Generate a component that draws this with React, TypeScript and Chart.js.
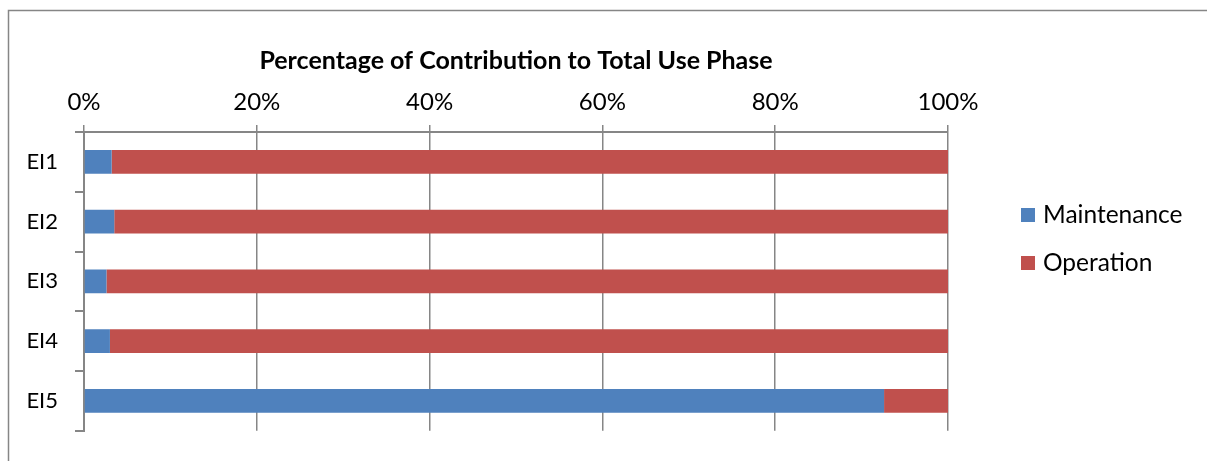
import React, { useEffect, useRef } from "react";
import { Chart, registerables } from "chart.js";

Chart.register(...registerables);

const categories = ["EI1", "EI2", "EI3", "EI4", "EI5"];
const maintenance = [3.2, 3.5, 2.6, 3.0, 92.6];
const operation = [96.8, 96.5, 97.4, 97.0, 7.4];
const seriesNames = ["Maintenance", "Operation"];
const seriesColors = ["#4F81BD", "#C0504D"];
const chartTitle = "Percentage of Contribution to Total Use Phase";

const FONT = "Lato, 'Open Sans', sans-serif";
const AXIS_GRAY = "#868686";

export default function App() {
  const ref = useRef<HTMLCanvasElement | null>(null);

  useEffect(() => {
    document.body.style.margin = "0";
    const canvas = ref.current;
    if (!canvas) return;

    const decor = {
      id: "decor",
      beforeDraw(chart: any) {
        const ctx = chart.ctx;
        ctx.save();
        ctx.strokeStyle = AXIS_GRAY;
        ctx.lineWidth = 1.5;
        ctx.beginPath();
        ctx.moveTo(8.5, chart.height);
        ctx.lineTo(8.5, 10.5);
        ctx.lineTo(chart.width, 10.5);
        ctx.stroke();
        ctx.restore();
      },
      afterDraw(chart: any) {
        const ctx = chart.ctx;
        const area = chart.chartArea;
        ctx.save();
        // title
        ctx.fillStyle = "#000";
        ctx.font = `bold 25px ${FONT}`;
        ctx.textAlign = "center";
        ctx.textBaseline = "middle";
        ctx.fillText(chartTitle, (area.left + area.right) / 2, 61);
        // legend
        ctx.font = `24.5px ${FONT}`;
        ctx.textAlign = "left";
        const ys = [215, 263];
        seriesNames.forEach((name, i) => {
          ctx.fillStyle = seriesColors[i];
          ctx.fillRect(1021, ys[i] - 7, 14, 14);
          ctx.fillStyle = "#000";
          ctx.fillText(name, 1043, ys[i]);
        });
        ctx.restore();
      },
    };

    const chart = new Chart(canvas, {
      type: "bar",
      data: {
        labels: categories,
        datasets: [
          {
            label: seriesNames[0],
            data: maintenance,
            backgroundColor: seriesColors[0],
            barPercentage: 0.4,
            categoryPercentage: 1,
          },
          {
            label: seriesNames[1],
            data: operation,
            backgroundColor: seriesColors[1],
            barPercentage: 0.4,
            categoryPercentage: 1,
          },
        ],
      },
      options: {
        indexAxis: "y",
        responsive: false,
        animation: false,
        layout: { padding: { left: 20, right: 259, top: 82, bottom: 23 } },
        plugins: {
          legend: { display: false },
          title: { display: false },
          tooltip: { enabled: false },
        },
        scales: {
          x: {
            position: "top",
            stacked: true,
            min: 0,
            max: 100,
            ticks: {
              stepSize: 20,
              color: "#000",
              font: { family: FONT, size: 24 },
              padding: 8,
              callback: (v: any) => v + "%",
            },
            grid: { color: AXIS_GRAY, lineWidth: 1.5, tickLength: 7, drawTicks: true },
            border: { color: AXIS_GRAY, width: 2 },
            afterFit: (s: any) => {
              s.height = 50;
            },
          },
          y: {
            stacked: true,
            ticks: { color: "#000", font: { family: FONT, size: 22 }, padding: 17 },
            grid: {
              drawOnChartArea: false,
              offset: true,
              tickLength: 9,
              color: AXIS_GRAY,
              lineWidth: 2,
            },
            border: { color: AXIS_GRAY, width: 2 },
            afterFit: (s: any) => {
              s.width = 64;
            },
          },
        },
      },
      plugins: [decor],
    });

    return () => chart.destroy();
  }, []);

  return (
    <div style={{ width: 1207, height: 461 }}>
      <canvas ref={ref} width={1207} height={461} style={{ display: "block" }} />
    </div>
  );
}
